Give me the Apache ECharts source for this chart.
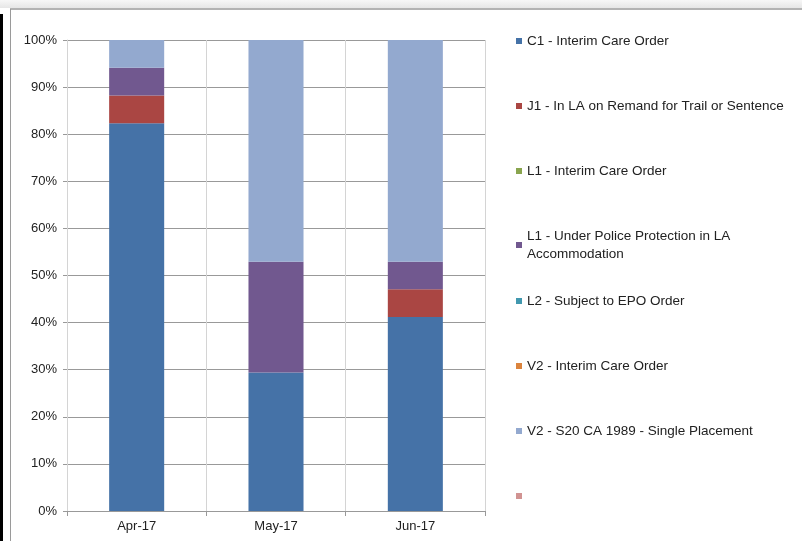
<!DOCTYPE html>
<html>
<head>
<meta charset="utf-8">
<script src="https://cdn.jsdelivr.net/npm/echarts@6/dist/echarts.min.js"></script>
<style>
  html, body { margin: 0; padding: 0; background: #fff; }
  #chart { width: 802px; height: 541px; }
</style>
</head>
<body>
<div id="chart"></div>
<script>
// months on the x axis
const months = ['Apr-17', 'May-17', 'Jun-17'];

// share of children per legal status (percent of each month)
const c1Interim = [82.35, 29.41, 41.18];
const j1Remand = [5.88, 0, 5.88];
const l1Interim = [0, 0, 0];
const l1Police = [5.88, 23.53, 5.88];
const l2Epo = [0, 0, 0];
const v2Interim = [0, 0, 0];
const v2S20 = [5.89, 47.06, 47.06];
const blankSeries = [0, 0, 0];

const yTicks = [0, 10, 20, 30, 40, 50, 60, 70, 80, 90, 100];

const seriesNames = [
    'C1 - Interim Care Order',
    'J1 - In LA on Remand for Trail or Sentence',
    'L1 - Interim Care Order',
    'L1 - Under Police Protection in LA\nAccommodation',
    'L2 - Subject to EPO Order',
    'V2 - Interim Care Order',
    'V2 - S20 CA 1989 - Single Placement',
    ' '
];
const seriesData = [c1Interim, j1Remand, l1Interim, l1Police, l2Epo, v2Interim, v2S20, blankSeries];
const colors = ['#4572A7', '#AA4643', '#89A54E', '#71588F', '#4198AF', '#DB843D', '#93A9CF', '#D19392'];

const font = '"Liberation Sans", Arial, sans-serif';
const legendCenters = [41, 106, 171, 236, 301, 366, 431, 496];

const chart = echarts.init(document.getElementById('chart'), null, { renderer: 'canvas' });

const legends = seriesNames.map((name, i) => {
    const twoLine = name.indexOf('\n') >= 0;
    const lh = twoLine ? 18 : 16;
    return {
        data: [name],
        orient: 'vertical',
        left: 516,
        top: legendCenters[i] - lh / 2,
        padding: 0,
        icon: 'rect',
        itemWidth: 6,
        itemHeight: 6,
        selectedMode: false,
        textStyle: { fontFamily: font, fontSize: 13.5, color: '#222', lineHeight: lh }
    };
});

chart.setOption({
    animation: false,
    color: colors,
    graphic: [
        // window chrome around the chart
        { type: 'rect', shape: { x: 0, y: 0, width: 802, height: 8 },
          style: { fill: new echarts.graphic.LinearGradient(0, 0, 0, 1, [
              { offset: 0, color: '#f7f7f7' }, { offset: 1, color: '#e6e6e6' }]) } },
        { type: 'line', shape: { x1: 10, y1: 9, x2: 802, y2: 9 }, style: { stroke: '#9a9a9a', lineWidth: 1.5 } },
        { type: 'line', shape: { x1: 10.5, y1: 9, x2: 10.5, y2: 541 }, style: { stroke: '#9a9a9a', lineWidth: 1 } },
        { type: 'rect', shape: { x: 0, y: 14, width: 3, height: 527 }, style: { fill: '#000' } }
    ],
    legend: legends,
    grid: { left: 67, right: 317, top: 40, bottom: 30 },
    xAxis: {
        type: 'category',
        data: months,
        axisLine: { lineStyle: { color: '#999' } },
        axisTick: { show: true, length: 5, lineStyle: { color: '#999' } },
        splitLine: { show: true, lineStyle: { color: '#d4d4d4' } },
        axisLabel: { fontFamily: font, fontSize: 13, color: '#222', margin: 9 }
    },
    yAxis: {
        type: 'value',
        min: 0,
        max: 100,
        interval: 10,
        axisLine: { show: true, lineStyle: { color: '#d4d4d4' } },
        axisTick: { show: true, length: 4, lineStyle: { color: '#999' } },
        splitLine: { lineStyle: { color: '#999' } },
        axisLabel: {
            fontFamily: font, fontSize: 13, color: '#222', margin: 10,
            formatter: v => (yTicks.indexOf(v) >= 0 ? v + '%' : '')
        }
    },
    series: seriesNames.map((name, i) => ({
        name: name,
        type: 'bar',
        stack: 'total',
        barWidth: '39.5%',
        data: seriesData[i],
        itemStyle: { color: colors[i] }
    }))
});
</script>
</body>
</html>
